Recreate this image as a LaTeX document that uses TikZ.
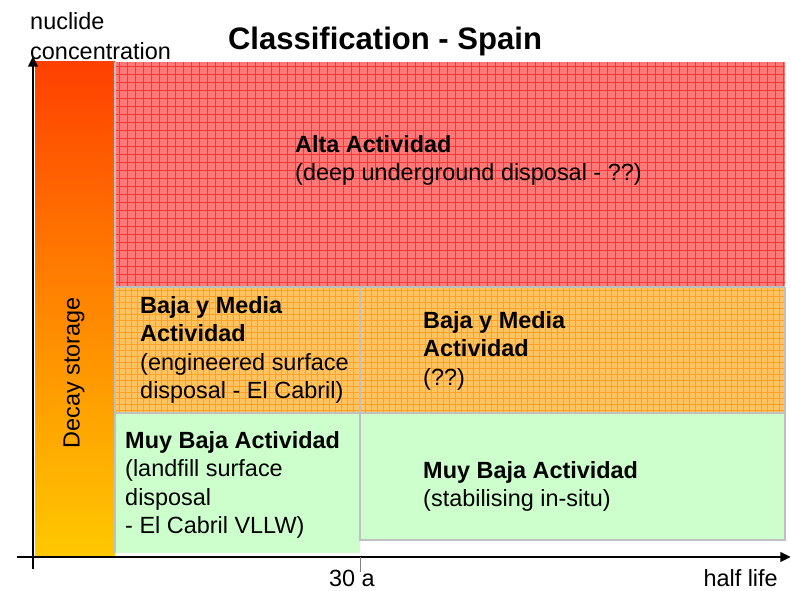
\documentclass[tikz,border=0pt]{standalone}
\usepackage{fontspec}
\setmainfont{Liberation Sans}
\usetikzlibrary{arrows.meta, positioning}
\definecolor{highFill}{RGB}{255, 120, 120}
\definecolor{highGrid}{RGB}{245, 55, 55}
\definecolor{midFill}{RGB}{255, 196, 95}
\definecolor{midGrid}{RGB}{255, 160, 40}
\definecolor{lowFill}{RGB}{204, 255, 204}
\definecolor{zoneLine}{RGB}{192, 192, 192}
\definecolor{barTop}{RGB}{255, 64, 0}
\definecolor{barMid}{RGB}{255, 135, 0}
\definecolor{barBottom}{RGB}{255, 200, 0}
\tikzset{
    zone_label/.style={
        anchor=north west,
        align=left,
        inner sep=0pt,
        font=\fontsize{20}{24.3}\selectfont
    },
    axis_label/.style={
        inner sep=0pt,
        font=\fontsize{20}{22}\selectfont
    },
    axis_line/.style={
        line width=2.4pt,
        -{Triangle[length=9pt, width=8pt]}
    },
    zone_edge/.style={
        draw=zoneLine,
        line width=1.2pt
    }
}

\begin{document}
\begin{tikzpicture}[x=0.03cm, y=-0.03cm]
        \useasboundingbox (0,0) rectangle (791,590);

        % decay storage bar
        \shade[top color=barTop, bottom color=barBottom, middle color=barMid]
            (35,62) rectangle (115,555);

        % zones
        \fill[highFill] (115,62) rectangle (785,287);
        \fill[midFill] (115,287) rectangle (785,413);
        \fill[lowFill] (115,413) rectangle (360,553);
        \fill[lowFill] (360,413) rectangle (785,540);
        \begin{scope}
            \clip (115,62) rectangle (785,287);
            \foreach \gx in {119,127,...,785}
                \draw[highGrid, line width=0.5pt] (\gx,62) -- (\gx,287);
            \foreach \gy in {66,74,...,287}
                \draw[highGrid, line width=0.5pt] (115,\gy) -- (785,\gy);
        \end{scope}
        \begin{scope}
            \clip (115,287) rectangle (785,413);
            \foreach \gx in {119,125,...,785}
                \draw[midGrid, line width=0.4pt] (\gx,287) -- (\gx,413);
            \foreach \gy in {290,296,...,413}
                \draw[midGrid, line width=0.4pt] (115,\gy) -- (785,\gy);
        \end{scope}
        \draw[zone_edge] (115,62) -- (115,553);
        \draw[zone_edge] (115,287) -- (785,287);
        \draw[zone_edge] (115,413) -- (785,413);
        \draw[zone_edge] (360,287) -- (360,540) -- (785,540) -- (785,287);

        % axes
        \coordinate (origin) at (33,557);
        \coordinate (ytop) at (33,56);
        \coordinate (ybottom) at (33,569);
        \coordinate (xleft) at (17,557);
        \coordinate (xright) at (791,557);
        \coordinate (tickTop) at (360,557);
        \coordinate (tickBottom) at (360,572);
        \draw[axis_line] (ybottom) -- (ytop);
        \draw[axis_line] (xleft) -- (xright);
        \draw[gray, line width=0.6pt] (tickTop) -- (tickBottom);

        % texts
        \node[anchor=base, inner sep=0pt, font=\fontsize{26.5}{30}\selectfont\bfseries]
            (title) at (385,50) {Classification - Spain};
        \node[axis_label, anchor=north west, align=left, font=\fontsize{20}{26}\selectfont]
            (yname) at (30,12) {nuclide\\concentration};
        \node[axis_label, anchor=base] (tick30) at (352,586) {30 a};
        \node[axis_label, anchor=base east] (xname) at (778,586) {half life};
        \node[axis_label, rotate=90] (decay) at (74,373) {Decay storage};

        \node[zone_label] (alta) at (295,135)
            {\textbf{Alta Actividad}\\(deep underground disposal - ??)};
        \node[zone_label] (bajaLeft) at (140,296)
            {\textbf{Baja y Media}\\\textbf{Actividad}\\(engineered surface\\disposal - El Cabril)};
        \node[zone_label] (bajaRight) at (423,311)
            {\textbf{Baja y Media}\\\textbf{Actividad}\\(??)};
        \node[zone_label] (muyLeft) at (125,431)
            {\textbf{Muy Baja Actividad}\\(landfill surface\\disposal\\- El Cabril VLLW)};
        \node[zone_label] (muyRight) at (423,461)
            {\textbf{Muy Baja Actividad}\\(stabilising in-situ)};
    \end{tikzpicture}
\end{document}
